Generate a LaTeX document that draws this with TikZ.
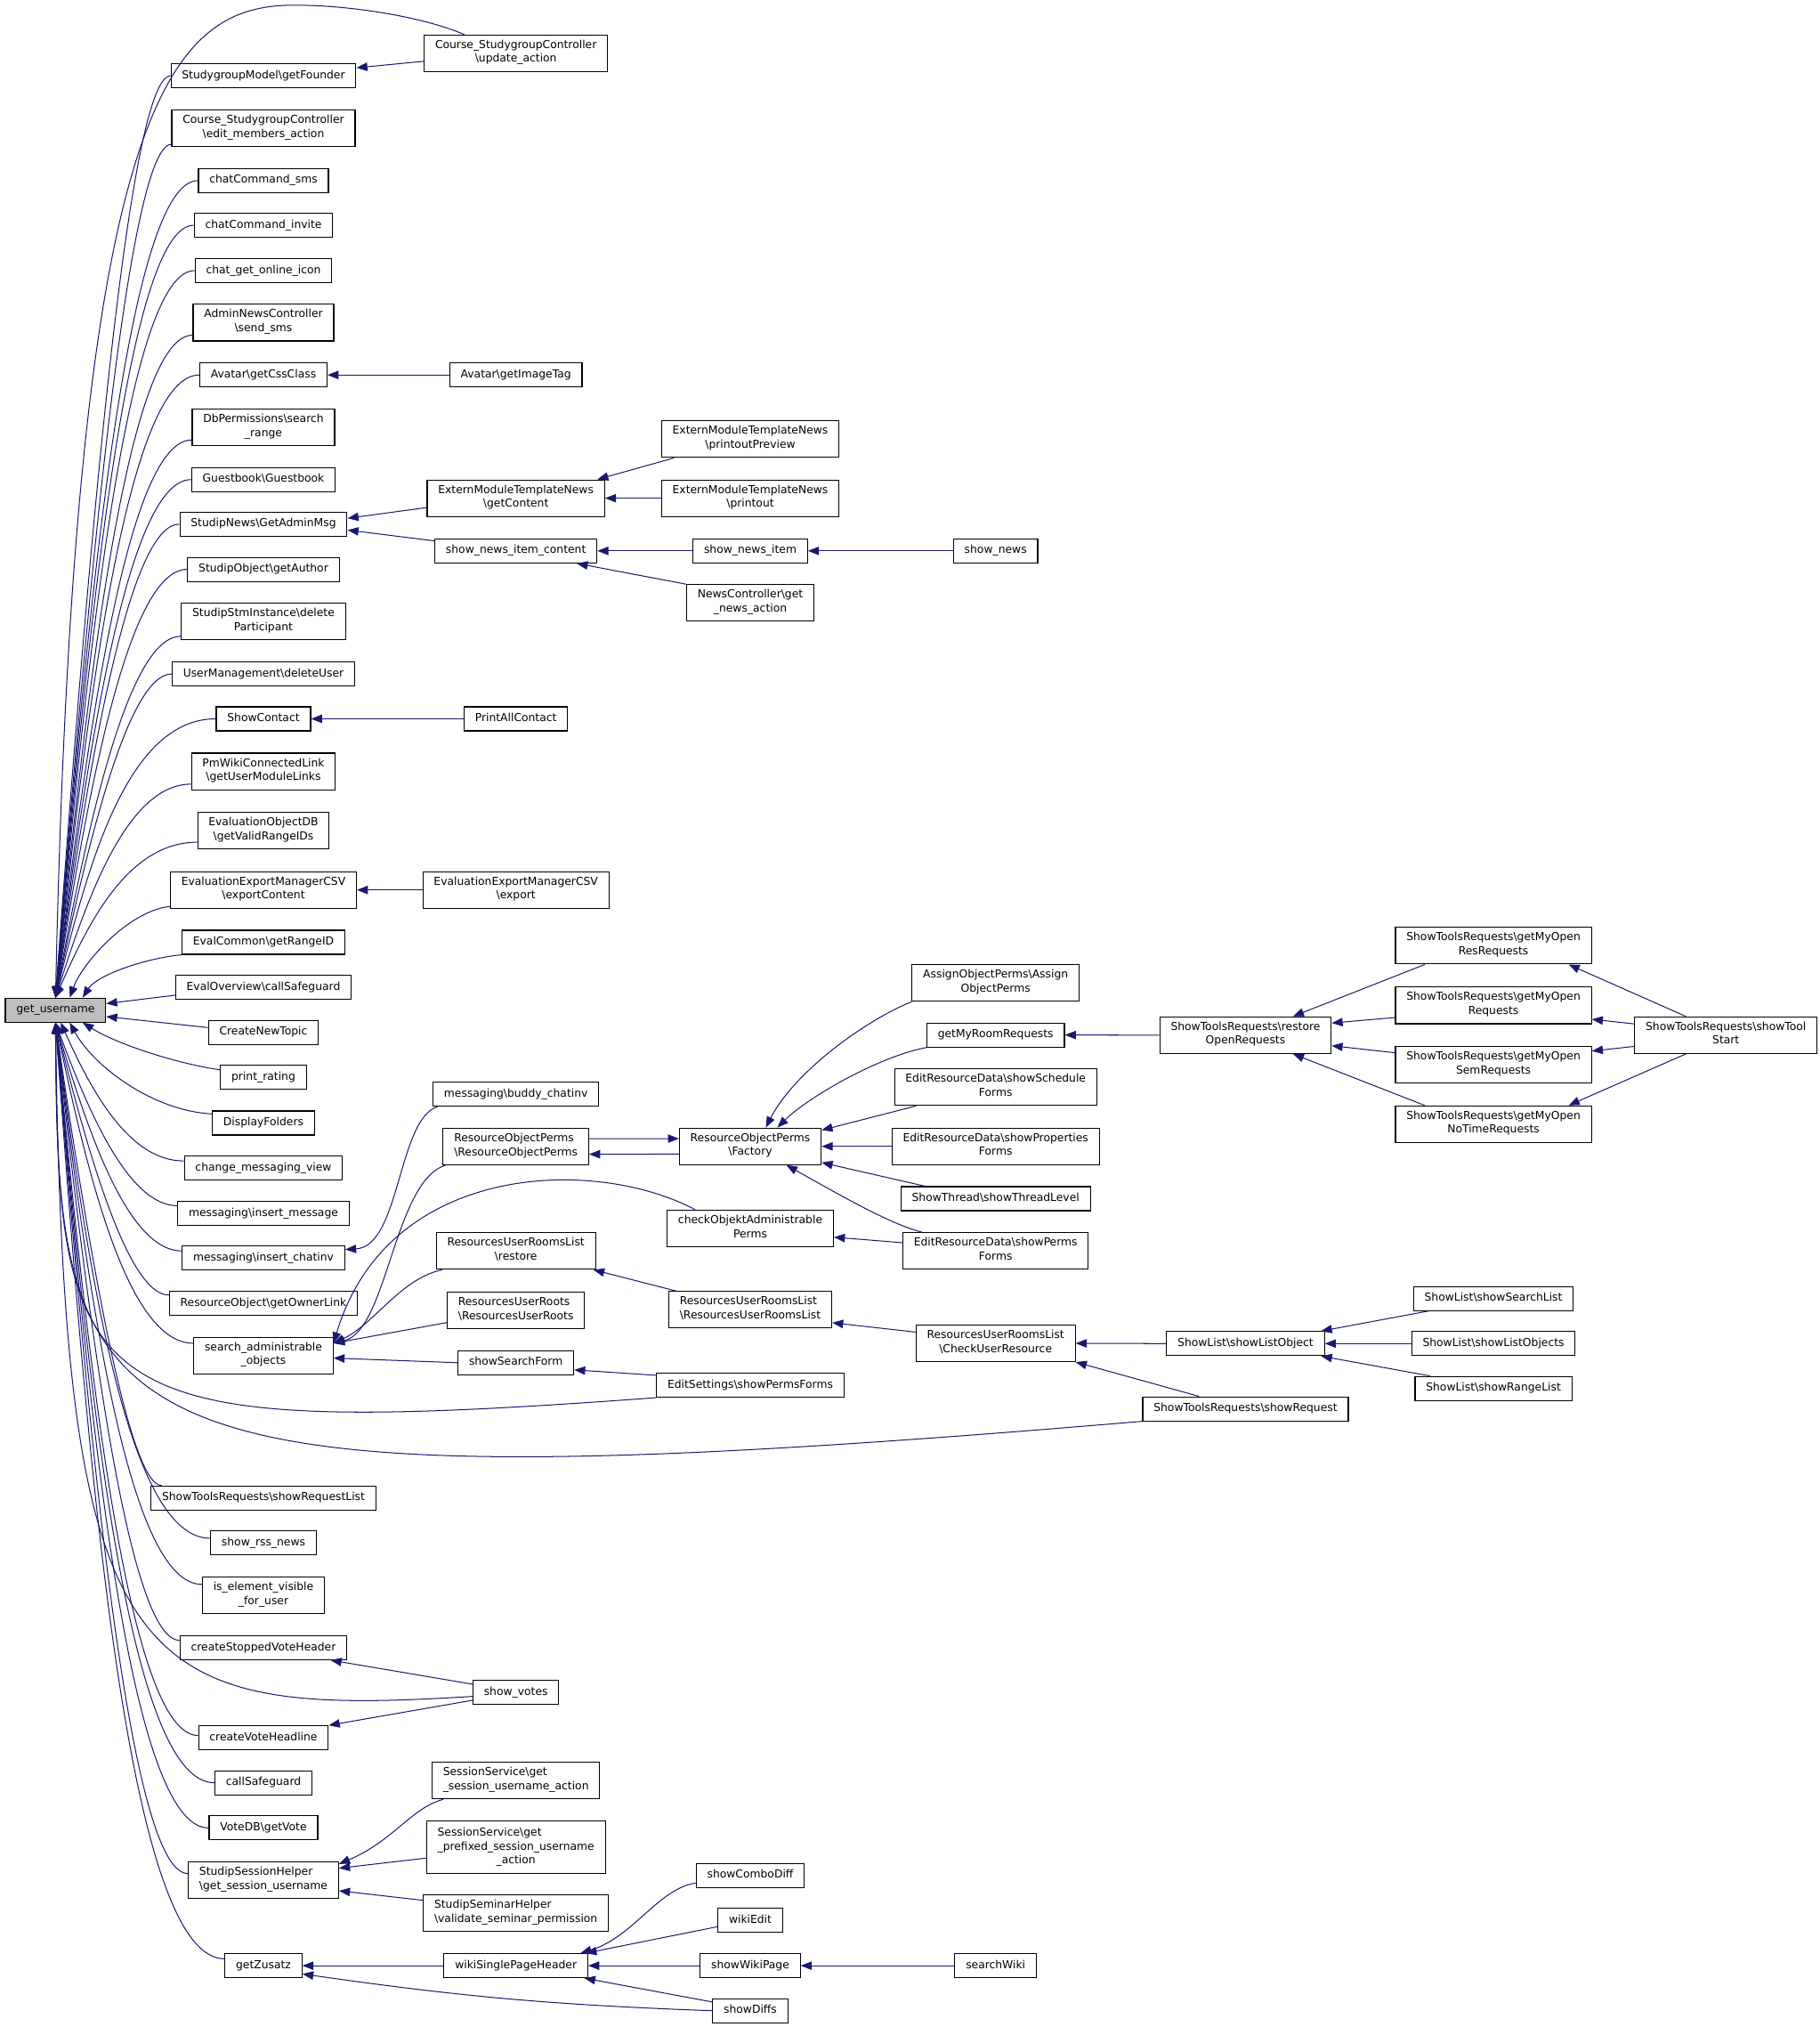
\documentclass[tikz,border=0pt]{standalone}
\usepackage{fontspec}
\setmainfont{DejaVu Sans}
\usetikzlibrary{arrows.meta}
\definecolor{callblue}{RGB}{25,25,112}
\newcommand{\bksl}{\textbackslash}
\newcommand{\fnsize}{\fontsize{8.5}{10.8}\selectfont}
\tikzset{
        fn/.style={draw=black, line width=0.75pt, fill=white, font=\fnsize, inner xsep=8.5pt, inner ysep=3.9pt, align=center, execute at begin node=\strut, execute at end node=\strut},
        fnl/.style={fn, align=left},
        focus/.style={fn, fill=black!25},
        call/.style={draw=callblue, line width=0.7pt, -{Triangle[length=8.5pt,width=6.5pt]}}
}
\begin{document}
\begin{tikzpicture}[x=1pt,y=1pt]
        \useasboundingbox (0,0) rectangle (1409.4,-1569.3);

        \node[focus] (get) at (43,-782) {get\_username};

        \node[fn] (gf) at (204,-58.8) {StudygroupModel\bksl getFounder};
        \node[fn] (em) at (204,-99.2) {Course\_StudygroupController\\\bksl edit\_members\_action};
        \node[fn] (sms) at (204,-139.8) {chatCommand\_sms};
        \node[fn] (inv) at (204,-174.4) {chatCommand\_invite};
        \node[fn] (onl) at (204,-209.5) {chat\_get\_online\_icon};
        \node[fn] (ans) at (204,-249.8) {AdminNewsController\\\bksl send\_sms};
        \node[fn] (css) at (204,-290.3) {Avatar\bksl getCssClass};
        \node[fn] (dbp) at (204,-330.8) {DbPermissions\bksl search\\\_range};
        \node[fn] (gb) at (204,-371.3) {Guestbook\bksl Guestbook};
        \node[fn] (gam) at (204,-405.8) {StudipNews\bksl GetAdminMsg};
        \node[fn] (auth) at (204,-440.8) {StudipObject\bksl getAuthor};
        \node[fn] (stm) at (204,-481.3) {StudipStmInstance\bksl delete\\Participant};
        \node[fn] (del) at (204,-521.8) {UserManagement\bksl deleteUser};
        \node[fn] (sc) at (204,-556.5) {ShowContact};
        \node[fn] (pmw) at (204,-597.2) {PmWikiConnectedLink\\\bksl getUserModuleLinks};
        \node[fn] (eod) at (204,-643) {EvaluationObjectDB\\\bksl getValidRangeIDs};
        \node[fn] (eec) at (204,-689) {EvaluationExportManagerCSV\\\bksl exportContent};
        \node[fn] (ec) at (204,-729.5) {EvalCommon\bksl getRangeID};
        \node[fn] (eo) at (204,-764.5) {EvalOverview\bksl callSafeguard};
        \node[fn] (cnt) at (204,-799.3) {CreateNewTopic};
        \node[fn] (pr) at (204,-834.2) {print\_rating};
        \node[fn] (df) at (204,-869.4) {DisplayFolders};
        \node[fn] (cmv) at (204,-904.2) {change\_messaging\_view};
        \node[fn] (im) at (204,-939.3) {messaging\bksl insert\_message};
        \node[fn] (ic) at (204,-974) {messaging\bksl insert\_chatinv};
        \node[fn] (gol) at (204,-1009) {ResourceObject\bksl getOwnerLink};
        \node[fn] (sao) at (204,-1049.5) {search\_administrable\\\_objects};
        \node[fn] (srl) at (204,-1159.7) {ShowToolsRequests\bksl showRequestList};
        \node[fn] (rss) at (204,-1194.5) {show\_rss\_news};
        \node[fn] (iev) at (204,-1235) {is\_element\_visible\\\_for\_user};
        \node[fn] (csvh) at (204,-1275.6) {createStoppedVoteHeader};
        \node[fn] (cvh) at (204,-1345.4) {createVoteHeadline};
        \node[fn] (csg) at (204,-1380.2) {callSafeguard};
        \node[fn] (vdb) at (204,-1415.2) {VoteDB\bksl getVote};
        \node[fnl] (ssh) at (204,-1455.6) {StudipSessionHelper\\\bksl get\_session\_username};
        \node[fn] (gz) at (204,-1521.8) {getZusatz};

        \node[fn] (upd) at (399.5,-41.2) {Course\_StudygroupController\\\bksl update\_action};
        \node[fn] (img) at (399.5,-290.3) {Avatar\bksl getImageTag};
        \node[fn] (gc) at (399.5,-385.7) {ExternModuleTemplateNews\\\bksl getContent};
        \node[fn] (snic) at (399.5,-426.5) {show\_news\_item\_content};
        \node[fn] (pac) at (399.5,-556.5) {PrintAllContact};
        \node[fn] (exp) at (399.5,-689) {EvaluationExportManagerCSV\\\bksl export};
        \node[fn] (bch) at (399.5,-847) {messaging\bksl buddy\_chatinv};
        \node[fnl] (rop) at (399.5,-887.6) {ResourceObjectPerms\\\bksl ResourceObjectPerms};
        \node[fn] (rest) at (399.5,-968.5) {ResourcesUserRoomsList\\\bksl restore};
        \node[fnl] (rur) at (399.5,-1014.5) {ResourcesUserRoots\\\bksl ResourcesUserRoots};
        \node[fn] (ssf) at (399.5,-1055) {showSearchForm};
        \node[fn] (sv) at (399.5,-1310.4) {show\_votes};
        \node[fnl] (ss1) at (399.5,-1378.5) {SessionService\bksl get\\\_session\_username\_action};
        \node[fn] (ss2) at (399.5,-1430) {\begin{tabular}{@{}l@{}}SessionService\bksl get\\\_prefixed\_session\_username\\\multicolumn{1}{@{}c@{}}{\_action}\end{tabular}};
        \node[fnl] (ssem) at (399.5,-1481.3) {StudipSeminarHelper\\\bksl validate\_seminar\_permission};
        \node[fn] (wsph) at (399.5,-1521.8) {wikiSinglePageHeader};

        \node[fn] (prev) at (581,-340) {ExternModuleTemplateNews\\\bksl printoutPreview};
        \node[fn] (prt) at (581,-385.7) {ExternModuleTemplateNews\\\bksl printout};
        \node[fn] (sni) at (581,-426.5) {show\_news\_item};
        \node[fn] (ncg) at (581,-466.8) {NewsController\bksl get\\\_news\_action};
        \node[fn] (fac) at (581,-887.5) {ResourceObjectPerms\\\bksl Factory};
        \node[fn] (cho) at (581,-951) {checkObjektAdministrable\\Perms};
        \node[fnl] (rurl) at (581,-1014) {ResourcesUserRoomsList\\\bksl ResourcesUserRoomsList};
        \node[fn] (es) at (581,-1072.4) {EditSettings\bksl showPermsForms};
        \node[fn] (scd) at (581,-1451.9) {showComboDiff};
        \node[fn] (wed) at (581,-1486.7) {wikiEdit};
        \node[fn] (swp) at (581,-1521.8) {showWikiPage};
        \node[fn] (sdf) at (581,-1556.7) {showDiffs};

        \node[fn] (sn) at (771,-426.5) {show\_news};
        \node[fn] (aop) at (771,-761) {AssignObjectPerms\bksl Assign\\ObjectPerms};
        \node[fn] (gmr) at (771,-801.3) {getMyRoomRequests};
        \node[fn] (ssch) at (771,-841.7) {EditResourceData\bksl showSchedule\\Forms};
        \node[fn] (sprop) at (771,-887.5) {EditResourceData\bksl showProperties\\Forms};
        \node[fn] (stl) at (771,-928) {ShowThread\bksl showThreadLevel};
        \node[fn] (erdp) at (771,-968.4) {EditResourceData\bksl showPerms\\Forms};
        \node[fn] (cur) at (771,-1040) {ResourcesUserRoomsList\\\bksl CheckUserResource};
        \node[fn] (sw) at (771,-1521.8) {searchWiki};

        \node[fn] (ror) at (964.5,-801.4) {ShowToolsRequests\bksl restore\\OpenRequests};
        \node[fn] (slo) at (964.5,-1040.2) {ShowList\bksl showListObject};
        \node[fn] (sreq) at (964.5,-1090.7) {ShowToolsRequests\bksl showRequest};

        \node[fn] (gmores) at (1156.5,-732.2) {ShowToolsRequests\bksl getMyOpen\\ResRequests};
        \node[fn] (gmo) at (1156.5,-778.4) {ShowToolsRequests\bksl getMyOpen\\Requests};
        \node[fn] (gsem) at (1156.5,-824.4) {ShowToolsRequests\bksl getMyOpen\\SemRequests};
        \node[fn] (gnt) at (1156.5,-870.3) {ShowToolsRequests\bksl getMyOpen\\NoTimeRequests};
        \node[fn] (ssl) at (1156.5,-1005.3) {ShowList\bksl showSearchList};
        \node[fn] (slos) at (1156.5,-1040.2) {ShowList\bksl showListObjects};
        \node[fn] (srng) at (1156.5,-1074.9) {ShowList\bksl showRangeList};

        \node[fn] (stst) at (1336.5,-801.4) {ShowToolsRequests\bksl showTool\\Start};

        \draw[call] ([xshift=-40pt]upd.north) .. controls (330,-14) and (275,-4) .. (228,-4) .. controls (130,-4) and (58,-80) .. (get.north);
        \draw[call] (gf.west) .. controls (100,-58.8) and (69,-415.7) .. (get.north);
        \draw[call] (em.190) .. controls (100,-112) and (69,-442.3) .. (get.north);
        \draw[call] (sms.west) .. controls (100,-139.8) and (69,-456.2) .. (get.north);
        \draw[call] (inv.west) .. controls (100,-174.4) and (69,-473.5) .. (get.north);
        \draw[call] (onl.west) .. controls (100,-209.5) and (69,-491.1) .. (get.north);
        \draw[call] (ans.190) .. controls (100,-259.4) and (69,-516) .. (get.north);
        \draw[call] (css.west) .. controls (100,-290.3) and (69,-531.5) .. (get.north);
        \draw[call] (dbp.190) .. controls (100,-340.8) and (69,-556.7) .. (get.north);
        \draw[call] (gb.west) .. controls (100,-371.3) and (69,-572) .. (get.north);
        \draw[call] (gam.west) .. controls (100,-405.8) and (69,-589.2) .. (get.north);
        \draw[call] (auth.west) .. controls (100,-440.8) and (69,-606.7) .. (get.north);
        \draw[call] (stm.190) .. controls (100,-492.7) and (69,-632.7) .. (get.north);
        \draw[call] (del.west) .. controls (100,-521.8) and (69,-647.2) .. (get.north);
        \draw[call] (sc.west) .. controls (100,-556.5) and (69,-664.6) .. (get.north);
        \draw[call] (pmw.190) .. controls (100,-607.1) and (69,-689.9) .. (get.north);
        \draw[call] (eod.190) .. controls (100,-652.1) and (69,-712.4) .. (get.north);
        \draw[call] (eec.190) .. controls (100,-705) and (64,-745) .. ([xshift=11pt]get.north);
        \draw[call] (ec.south west) .. controls (112,-742) and (75,-755) .. ([xshift=21pt]get.north);
        \draw[call] (eo.185) -- ([yshift=5pt]get.east);
        \draw[call] (cnt.175) -- ([yshift=-5pt]get.east);
        \draw[call] (pr.170) .. controls (135,-823) and (90,-808) .. ([xshift=21pt]get.south);
        \draw[call] (df.170) .. controls (118,-860) and (72,-825) .. ([xshift=11pt]get.south);
        \draw[call] (cmv.175) .. controls (100,-898.8) and (71,-845) .. ([xshift=4pt]get.south);
        \draw[call] (im.175) .. controls (100,-933.3) and (69,-862.3) .. (get.south);
        \draw[call] (ic.175) .. controls (100,-968.4) and (69,-879.9) .. (get.south);
        \draw[call] (gol.175) .. controls (100,-1002.7) and (69,-897) .. (get.south);
        \draw[call] (sao.170) .. controls (100,-1039.8) and (69,-915.6) .. (get.south);
        \draw[call] (es.south west) .. controls (60,-1115) and (45,-1090) .. (get.south);
        \draw[call] (sreq.south west) .. controls (60,-1170) and (45,-1120) .. (get.south);
        \draw[call] (srl.173) .. controls (100,-1150.4) and (69,-970.9) .. (get.south);
        \draw[call] (rss.175) .. controls (100,-1190.9) and (69,-991.1) .. (get.south);
        \draw[call] (iev.170) .. controls (100,-1226.6) and (69,-1009) .. (get.south);
        \draw[call] (csvh.175) .. controls (100,-1269.7) and (69,-1030.5) .. (get.south);
        \draw[call] (sv.185) .. controls (100,-1330) and (50,-1300) .. (get.south);
        \draw[call] (cvh.178) .. controls (100,-1343) and (69,-1067.2) .. (get.south);
        \draw[call] (csg.west) .. controls (100,-1380.2) and (69,-1085.8) .. (get.south);
        \draw[call] (vdb.west) .. controls (100,-1415.2) and (69,-1103.3) .. (get.south);
        \draw[call] (ssh.175) .. controls (100,-1450.3) and (69,-1120.8) .. (get.south);
        \draw[call] (gz.170) .. controls (100,-1516.4) and (69,-1153.9) .. (get.south);

        \draw[call] (upd.185) -- (gf.5);
        \draw[call] (img.west) -- (css.east);
        \draw[call] ([xshift=10pt]prev.south west) -- ([xshift=-6pt]gc.north east);
        \draw[call] (prt.west) -- (gc.east);
        \draw[call] (gc.186) -- (gam.4);
        \draw[call] (snic.173) -- (gam.-4);
        \draw[call] (sni.west) -- (snic.east);
        \draw[call] (sn.west) -- (sni.east);
        \draw[call] (ncg.north west) -- ([xshift=-16pt]snic.south east);
        \draw[call] (pac.west) -- (sc.east);
        \draw[call] (exp.west) -- (eec.east);
        \draw[call] ([xshift=4pt]bch.south west) .. controls (308,-866) and (310,-965) .. (ic.6);
        \draw[call] ([xshift=2pt]rop.south west) .. controls (305,-915) and (300,-1030) .. (sao.10);
        \draw[call] ([xshift=22pt]cho.north west) .. controls (460,-895) and (300,-900) .. (sao.10);
        \draw[call] ([xshift=5pt]rest.south west) .. controls (310,-990) and (290,-1025) .. (sao.10);
        \draw[call] (rur.190) -- (sao.10);
        \draw[call] (ssf.west) -- (sao.-2);
        \draw[call] (es.174) -- (ssf.-7);
        \draw[call] ([yshift=6pt]rop.east) -- ([yshift=6pt]fac.west);
        \draw[call] ([yshift=-6pt]fac.west) -- ([yshift=-6pt]rop.east);
        \draw[call] (aop.south west) .. controls (670,-790) and (615,-830) .. ([xshift=12pt]fac.north);
        \draw[call] (gmr.south west) .. controls (680,-818) and (625,-850) .. ([xshift=21pt]fac.north);
        \draw[call] ([xshift=17pt]ssch.south west) -- ([yshift=-2pt]fac.north east);
        \draw[call] (sprop.west) -- (fac.east);
        \draw[call] ([xshift=19pt]stl.north west) -- ([yshift=2pt]fac.south east);
        \draw[call] ([xshift=15pt]erdp.north west) .. controls (690,-948) and (650,-925) .. ([xshift=28pt]fac.south);
        \draw[call] (erdp.175) -- (cho.-6);
        \draw[call] ([xshift=6pt]rurl.north west) -- ([xshift=-2pt]rest.south east);
        \draw[call] (cur.172) -- (rurl.-9);
        \draw[call] (slo.west) -- (cur.east);
        \draw[call] ([xshift=-36pt]sreq.north) -- (cur.south east);
        \draw[call] ([xshift=12pt]ssl.south west) -- ([xshift=-3pt]slo.north east);
        \draw[call] (slos.west) -- (slo.east);
        \draw[call] ([xshift=12pt]srng.north west) -- ([xshift=-3pt]slo.south east);
        \draw[call] (ror.west) -- (gmr.east);
        \draw[call] ([xshift=23pt]gmores.south west) -- ([xshift=-30pt]ror.north east);
        \draw[call] (gmo.187) -- (ror.8);
        \draw[call] (gsem.173) -- (ror.-7);
        \draw[call] ([xshift=23pt]gnt.north west) -- ([xshift=-30pt]ror.south east);
        \draw[call] ([xshift=40pt]stst.north west) -- ([xshift=-18pt]gmores.south east);
        \draw[call] (stst.173) -- (gmo.-8);
        \draw[call] (stst.187) -- (gsem.8);
        \draw[call] ([xshift=40pt]stst.south west) -- ([xshift=-18pt]gnt.north east);
        \draw[call] (sv.169) -- ([xshift=-13pt]csvh.south east);
        \draw[call] (sv.190) -- (cvh.north east);
        \draw[call] ([xshift=9pt]ss1.south west) .. controls (318,-1400) and (305,-1425) .. ([yshift=-2pt]ssh.north east);
        \draw[call] (ss2.187) -- (ssh.9);
        \draw[call] (ssem.172) -- (ssh.-8);
        \draw[call] (wsph.west) -- (gz.east);
        \draw[call] (sdf.west) to[bend left=3] (gz.-12);
        \draw[call] (sdf.167) -- ([xshift=-3pt]wsph.south east);
        \draw[call] (swp.west) -- (wsph.east);
        \draw[call] (sw.west) -- (swp.east);
        \draw[call] (wed.191) -- ([xshift=-2pt]wsph.north east);
        \draw[call] (scd.188) .. controls (510,-1462) and (490,-1500) .. ([xshift=-6pt]wsph.north east);
\end{tikzpicture}
\end{document}
